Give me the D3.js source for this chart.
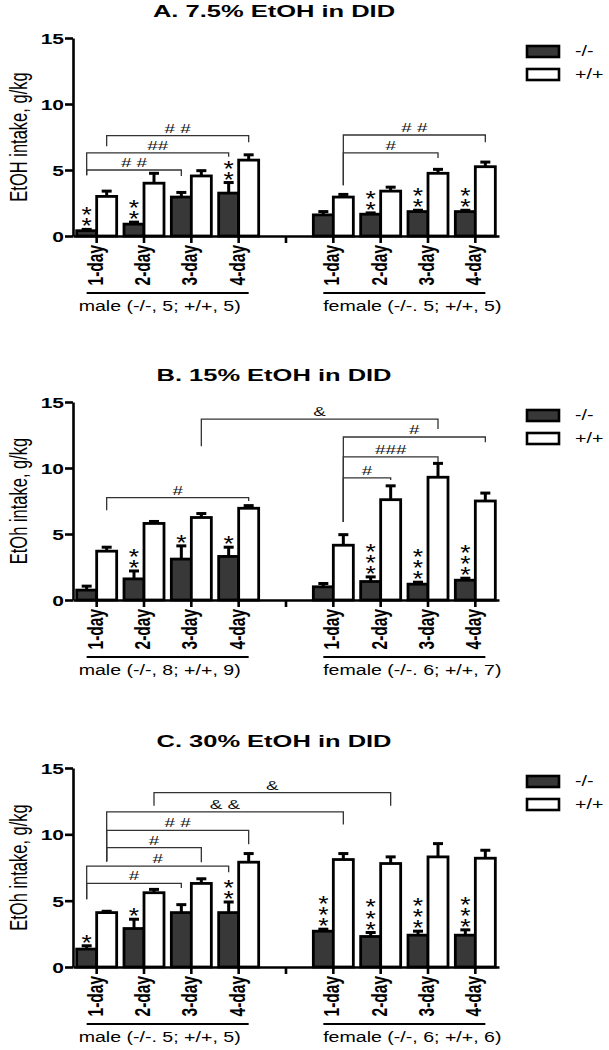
<!DOCTYPE html>
<html><head><meta charset="utf-8">
<script src="https://cdn.jsdelivr.net/npm/d3@7"></script>
<style>
html,body{margin:0;padding:0;background:#fff;}
svg{display:block;font-family:"Liberation Sans",Arial,sans-serif;}
</style></head>
<body>
<svg id="chart" width="609" height="1050"></svg>
<script>
// ---------- data ----------
const days = ["1-day","2-day","3-day","4-day"];
const sexes = ["male","female"];
const seriesKeys = ["-/-","+/+"];
const yTicks = [0,5,10,15];
const panelTitles = ["A. 7.5% EtOH in DID","B. 15% EtOH in DID","C. 30% EtOH in DID"];
const yLabels = ["EtOH intake, g/kg","EtOh intake, g/kg","EtOh intake, g/kg"];
const groupLabelsA = ["male (-/-, 5; +/+, 5)","female (-/-. 5; +/+, 5)"];
const groupLabelsB = ["male (-/-, 8; +/+, 9)","female (-/-. 6; +/+, 7)"];
const groupLabelsC = ["male (-/-. 5; +/+, 5)","female (-/-, 6; +/+, 6)"];

// values: male 1-4 day, then female 1-4 day
const koMeanA = [0.4, 0.9, 2.95, 3.25,   1.6, 1.65, 1.85, 1.85];
const koSemA  = [0.1, 0.15, 0.35, 0.8,   0.25, 0.1, 0.1, 0.1];
const wtMeanA = [3.0, 4.0, 4.55, 5.75,   2.95, 3.4, 4.75, 5.25];
const wtSemA  = [0.4, 0.75, 0.4, 0.4,    0.2, 0.3, 0.3, 0.35];
const starsA  = [2, 2, 0, 2,  0, 2, 2, 2];

const koMeanB = [0.75, 1.6, 3.1, 3.3,   1.0, 1.4, 1.2, 1.5];
const koSemB  = [0.3, 0.6, 1.0, 0.7,    0.25, 0.35, 0.15, 0.15];
const wtMeanB = [3.7, 5.8, 6.25, 6.95,  4.15, 7.6, 9.3, 7.5];
const wtSemB  = [0.3, 0.15, 0.3, 0.2,   0.8, 1.05, 1.05, 0.6];
const starsB  = [0, 2, 1, 1,  0, 3, 3, 3];

const koMeanC = [1.35, 2.9, 4.1, 4.1,   2.7, 2.3, 2.4, 2.4];
const koSemC  = [0.25, 0.7, 0.6, 0.8,   0.15, 0.3, 0.3, 0.4];
const wtMeanC = [4.1, 5.6, 6.3, 7.9,    8.1, 7.8, 8.3, 8.2];
const wtSemC  = [0.1, 0.25, 0.35, 0.65, 0.45, 0.5, 1.0, 0.6];
const starsC  = [1, 1, 0, 2,  3, 3, 3, 3];

// brackets: [sex, day, series] -> [sex, day, series], level, left leg end, right leg end (g/kg), label
const bracketsA = [
  {from:["male",0,"-/-"], to:["male",2,"-/-"], level:5.0, leftEnd:4.6, rightEnd:4.55, label:"# #"},
  {from:["male",0,"-/-"], to:["male",3,"-/-"], level:6.3, leftEnd:4.6, rightEnd:6.0, label:"##"},
  {from:["male",0,"+/+"], to:["male",3,"+/+"], level:7.6, leftEnd:6.8, rightEnd:7.1, label:"# #"},
  {from:["female",0,"+/+"], to:["female",3,"+/+"], level:7.65, leftEnd:3.85, rightEnd:7.1, label:"# #"},
  {from:["female",0,"+/+"], to:["female",2,"+/+"], level:6.3, leftEnd:3.85, rightEnd:5.9, label:"#"}
];
const bracketsB = [
  {from:["male",0,"+/+"], to:["male",3,"+/+"], level:7.75, leftEnd:6.8, rightEnd:7.5, label:"#"},
  {from:["male",2,"+/+"], to:["female",2,"+/+"], level:13.7, leftEnd:11.65, rightEnd:12.95, label:"&"},
  {from:["female",0,"+/+"], to:["female",3,"+/+"], level:12.35, leftEnd:5.9, rightEnd:11.95, label:"#"},
  {from:["female",0,"+/+"], to:["female",2,"+/+"], level:10.85, leftEnd:5.9, rightEnd:10.45, label:"###"},
  {from:["female",0,"+/+"], to:["female",1,"+/+"], level:9.25, leftEnd:5.9, rightEnd:9.1, label:"#"}
];
const bracketsC = [
  {from:["male",1,"+/+"], to:["female",1,"+/+"], level:13.15, leftEnd:12.15, rightEnd:12.15, label:"&"},
  {from:["male",0,"+/+"], to:["female",0,"+/+"], level:11.7, leftEnd:7.95, rightEnd:10.75, label:"& &"},
  {from:["male",0,"+/+"], to:["male",3,"+/+"], level:10.3, leftEnd:7.95, rightEnd:9.25, label:"# #"},
  {from:["male",0,"+/+"], to:["male",2,"+/+"], level:9.0, leftEnd:7.95, rightEnd:7.9, label:"#"},
  {from:["male",0,"-/-"], to:["male",3,"-/-"], level:7.6, leftEnd:5.1, rightEnd:7.15, label:"#"},
  {from:["male",0,"-/-"], to:["male",2,"-/-"], level:6.3, leftEnd:5.1, rightEnd:5.95, label:"#"}
];

// ---------- layout ----------
const panels = [
  {title:panelTitles[0], yLabel:yLabels[0], groups:groupLabelsA, ko:koMeanA, koE:koSemA, wt:wtMeanA, wtE:wtSemA, stars:starsA, brackets:bracketsA, top:38, zero:236},
  {title:panelTitles[1], yLabel:yLabels[1], groups:groupLabelsB, ko:koMeanB, koE:koSemB, wt:wtMeanB, wtE:wtSemB, stars:starsB, brackets:bracketsB, top:402, zero:600},
  {title:panelTitles[2], yLabel:yLabels[2], groups:groupLabelsC, ko:koMeanC, koE:koSemC, wt:wtMeanC, wtE:wtSemC, stars:starsC, brackets:bracketsC, top:768, zero:967}
];
const xLeft = 73, xRight = 499;
const catKeys = [...days.map(d=>"male|"+d), "gap", ...days.map(d=>"female|"+d)];
const x = d3.scaleBand().domain(catKeys).range([xLeft, xRight]).paddingInner(0).paddingOuter(0);
const xs = d3.scaleBand().domain(seriesKeys).range([-20, 20]);
const fill = {"-/-":"#383838", "+/+":"#ffffff"};
const SX = 1.45;

const svg = d3.select("#chart");

function stext(g, px, py, str, o){
  const t = g.append("text")
    .attr("transform", `translate(${px},${py}) scale(${o.sx||SX},1)` + (o.rot ? ` rotate(${o.rot})` : ""))
    .attr("text-anchor", o.anchor || "middle")
    .attr("font-size", o.size)
    .attr("font-weight", o.weight || "normal")
    .attr("fill", o.color || "#000")
    .text(str);
  return t;
}
function catCenter(sex, dayIdx){ return x(sex+"|"+days[dayIdx]) + x.bandwidth()/2; }
function barCenter(sex, dayIdx, s){ return catCenter(sex, dayIdx) + xs(s) + xs.bandwidth()/2; }

panels.forEach(p => {
  const g = svg.append("g");
  const y = d3.scaleLinear().domain([0,15]).range([p.zero, p.top]);

  // title
  stext(g, 274, p.top - 21, p.title, {size:17, weight:"bold", sx:1.5});

  // y label
  stext(g, 27, (p.zero + p.top)/2, p.yLabel, {size:16.5, rot:-90, sx:1.45});

  // bars
  const rows = [];
  sexes.forEach((sx, si) => days.forEach((d, di) => {
    const i = si*4 + di;
    rows.push({sex:sx, di, s:"-/-", v:p.ko[i], e:p.koE[i], stars:p.stars[i]});
    rows.push({sex:sx, di, s:"+/+", v:p.wt[i], e:p.wtE[i], stars:0});
  }));

  // error bars
  const eg = g.append("g").attr("stroke","#000").attr("stroke-width",3);
  rows.forEach(r => {
    const cx = barCenter(r.sex, r.di, r.s);
    eg.append("line").attr("x1",cx).attr("x2",cx).attr("y1",y(r.v)).attr("y2",y(r.v + r.e));
    eg.append("line").attr("x1",cx-5).attr("x2",cx+5).attr("y1",y(r.v + r.e)).attr("y2",y(r.v + r.e));
  });

  g.append("g").selectAll("rect").data(rows).join("rect")
    .attr("x", r => x(r.sex+"|"+days[r.di]) + x.bandwidth()/2 + xs(r.s))
    .attr("width", xs.bandwidth())
    .attr("y", r => y(r.v))
    .attr("height", r => p.zero - y(r.v))
    .attr("fill", r => fill[r.s])
    .attr("stroke", "#000").attr("stroke-width", 2.8);

  // stars: one text per stack, run upward with each glyph turned upright
  const starSize = 22, starSx = 1.2, starAdv = 0.389 * starSize;
  rows.filter(r => r.stars > 0).forEach(r => {
    const cx = barCenter(r.sex, r.di, r.s);
    const top = y(r.v + r.e);
    g.append("text")
      .attr("transform", `translate(${cx - starAdv*starSx/2},${top + 4}) scale(${starSx},1) rotate(-90)`)
      .attr("rotate", "90")
      .attr("text-anchor","start")
      .attr("font-size", starSize)
      .attr("letter-spacing", 11 - starAdv)
      .attr("fill","#000")
      .text("*".repeat(r.stars));
  });

  // brackets
  const bg = g.append("g").attr("stroke","#333").attr("stroke-width",1.3).attr("fill","none");
  p.brackets.forEach(b => {
    const x1 = barCenter(b.from[0], b.from[1], b.from[2]);
    const x2 = barCenter(b.to[0], b.to[1], b.to[2]);
    bg.append("path").attr("d", `M${x1},${y(b.leftEnd)}V${y(b.level)}H${x2}V${y(b.rightEnd)}`);
    stext(g, (x1+x2)/2, y(b.level) - 3, b.label, {size:13, sx:1.45, color:"#111"});
  });

  // y axis
  const ya = g.append("g").attr("transform", `translate(${xLeft},0)`)
    .call(d3.axisLeft(y).tickValues(yTicks).tickSize(8).tickSizeOuter(0).tickPadding(1));
  ya.select(".domain").attr("stroke","#000").attr("stroke-width",2.6);
  ya.selectAll(".tick line").attr("stroke","#000").attr("stroke-width",2.6);
  ya.selectAll(".tick text").attr("font-family",null).attr("font-size",15).attr("font-weight","bold")
    .attr("fill","#000").attr("dy","0.36em").attr("x", -9/1.4).attr("transform","scale(1.4,1)");

  // x axis
  const xa = g.append("g").attr("transform", `translate(0,${p.zero})`)
    .call(d3.axisBottom(x).tickSize(7).tickSizeOuter(0).tickFormat(k => k === "gap" ? "" : k.split("|")[1]));
  xa.select(".domain").attr("stroke","#000").attr("stroke-width",2.6);
  xa.selectAll(".tick line").attr("stroke","#000").attr("stroke-width",2.6);
  xa.selectAll(".tick text").attr("font-family",null).attr("font-size",15.5).attr("font-weight","bold").attr("fill","#000")
    .attr("x",0).attr("y",0).attr("dy",0).attr("text-anchor","end")
    .attr("transform","translate(6,9) scale(1.4,1) rotate(-90)");

  // group underlines and labels
  sexes.forEach((sx, si) => {
    const a = barCenter(sx, 0, "-/-"), b = barCenter(sx, 3, "+/+");
    g.append("line").attr("x1",a).attr("x2",b).attr("y1",p.zero+57).attr("y2",p.zero+57)
      .attr("stroke","#000").attr("stroke-width",1.8);
    stext(g, (a+b)/2 + (si===0 ? -8 : 8), p.zero + 75, p.groups[si], {size:14.5, sx:1.35});
  });

  // legend
  seriesKeys.forEach((s, i) => {
    const ly = p.top + 8 + i*23;
    g.append("rect").attr("x",527).attr("y",ly).attr("width",32).attr("height",11)
      .attr("fill",fill[s]).attr("stroke","#000").attr("stroke-width",2.6);
    stext(g, 575, ly + 10, s, {size:14, anchor:"start", sx:1.4});
  });
});
</script>
</body></html>
